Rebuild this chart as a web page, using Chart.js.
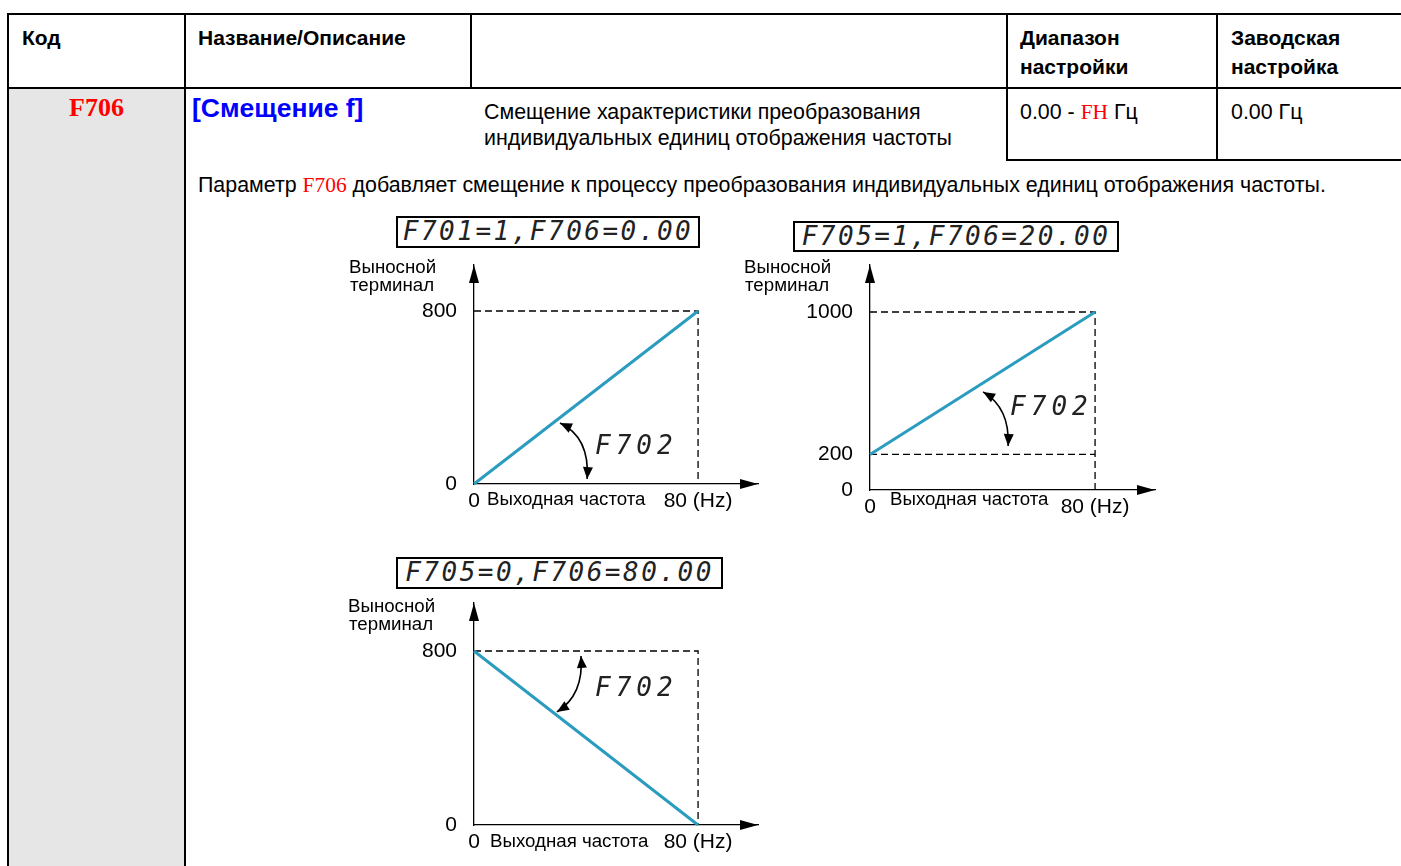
<!DOCTYPE html>
<html>
<head>
<meta charset="utf-8">
<script src="https://cdn.jsdelivr.net/npm/chart.js@4"></script>
<style>
  body { margin: 0; width: 1401px; height: 866px; position: relative; overflow: hidden; background: #fff;
         font-family: 'Liberation Sans', Arial, sans-serif; color: #000; }
  .ln { position: absolute; background: #000; }
  .t { position: absolute; white-space: nowrap; line-height: 1; }
  .b { font-weight: bold; }
  .red { color: #f00; font-family: 'Liberation Serif', 'Times New Roman', serif; }
  .box { position: absolute; border: 2px solid #000; box-sizing: border-box; text-align: center;
         font: oblique 26px 'DejaVu Sans Mono', monospace; letter-spacing: 2.5px; line-height: 27px; color: #222; }
  canvas { position: absolute; }
</style>
</head>
<body>
<!-- table frame -->
<div class="ln" style="left:8px;top:88px;width:177px;height:778px;background:#e6e6e6"></div>
<div class="ln" style="left:8px;top:13px;width:1393px;height:1.5px"></div>
<div class="ln" style="left:8px;top:87px;width:1393px;height:1.5px"></div>
<div class="ln" style="left:7px;top:13px;width:1.5px;height:853px"></div>
<div class="ln" style="left:184px;top:13px;width:1.5px;height:853px"></div>
<div class="ln" style="left:470px;top:13px;width:1.5px;height:75px"></div>
<div class="ln" style="left:1006px;top:13px;width:1.5px;height:148px"></div>
<div class="ln" style="left:1216px;top:13px;width:1.5px;height:148px"></div>
<div class="ln" style="left:1006px;top:159px;width:395px;height:1.5px"></div>

<div class="t b" style="left:22px;top:27px;font-size:21px">Код</div>
<div class="t b" style="left:198px;top:27px;font-size:21px">Название/Описание</div>
<div class="t b" style="left:1020px;top:27px;font-size:21px">Диапазон</div>
<div class="t b" style="left:1020px;top:56px;font-size:21px">настройки</div>
<div class="t b" style="left:1231px;top:27px;font-size:21px">Заводская</div>
<div class="t b" style="left:1231px;top:56px;font-size:21px">настройка</div>

<div class="t b red" style="left:69px;top:95px;font-size:26px">F706</div>
<div class="t b" style="left:192px;top:95px;font-size:26.5px;color:#0000ff">[Смещение f]</div>
<div class="t" style="left:484px;top:101.5px;font-size:21.4px">Смещение характеристики преобразования</div>
<div class="t" style="left:484px;top:127.5px;font-size:21.4px">индивидуальных единиц отображения частоты</div>
<div class="t" style="left:1020px;top:101.5px;font-size:21.4px">0.00 - <span class="red">FH</span> Гц</div>
<div class="t" style="left:1231px;top:101.5px;font-size:21.4px">0.00 Гц</div>
<div class="t" style="left:198px;top:174.5px;font-size:21.4px">Параметр <span class="red">F706</span> добавляет смещение к процессу преобразования индивидуальных единиц отображения частоты.</div>

<div class="box" style="left:396px;top:216px;width:304px;height:32px">F701=1,F706=0.00</div>
<div class="box" style="left:793px;top:221px;width:326px;height:31px">F705=1,F706=20.00</div>
<div class="box" style="left:396px;top:557px;width:327px;height:32px">F705=0,F706=80.00</div>

<canvas id="chartA" width="430" height="290" style="left:340px;top:235px"></canvas>
<canvas id="chartB" width="430" height="295" style="left:735px;top:235px"></canvas>
<canvas id="chartC" width="430" height="293" style="left:340px;top:573px"></canvas>

<script>
// output frequency (Hz) at the two ends of each characteristic
const freqTicks = [0, 80];
const freqLabels = ['0', '80 (Hz)'];
// remote terminal value at 0 Hz and at 80 Hz
const termA = [0, 800];     // F701=1, F706=0.00
const termB = [200, 1000];  // F705=1, F706=20.00
const termC = [800, 0];     // F705=0, F706=80.00
// y axis tick labels
const ticksA = [0, 800];
const ticksB = [0, 200, 1000];
const ticksC = [0, 800];

const LINE = '#2b9cbf';
const FONT = "'Liberation Sans', Arial, sans-serif";

function arrowHead(ctx, tip, dir, len, half) {
  const l = Math.hypot(dir[0], dir[1]);
  const ux = dir[0] / l, uy = dir[1] / l;
  const bx = tip[0] - ux * len, by = tip[1] - uy * len;
  ctx.beginPath();
  ctx.moveTo(tip[0], tip[1]);
  ctx.lineTo(bx - uy * half, by + ux * half);
  ctx.lineTo(bx + uy * half, by - ux * half);
  ctx.closePath();
  ctx.fill();
}

const decor = {
  id: 'decor',
  afterDraw(chart, args, o) {
    const { ctx, chartArea: a, scales: { x, y } } = chart;
    const x0 = x.getPixelForValue(0), y0 = y.getPixelForValue(0);
    ctx.save();
    ctx.fillStyle = '#000';
    ctx.strokeStyle = '#000';
    // axis arrows
    arrowHead(ctx, [x0, a.top], [0, -1], 18, 5);
    arrowHead(ctx, [a.right, y0], [1, 0], 18, 5);

    // axis titles
    ctx.textBaseline = 'middle';
    ctx.textAlign = 'left';
    ctx.font = '18.7px ' + FONT;
    ctx.fillText('Выносной', x0 + o.yTitle[0], a.top + o.yTitle[1]);
    ctx.fillText('терминал', x0 + o.yTitle[0] + 1, a.top + o.yTitle[1] + 18);
    ctx.fillText('Выходная частота', x0 + o.xTitle[0], y0 + o.xTitle[1]);

    // F702 gain arrow
    const P = p => [x.getPixelForValue(p[0]), y.getPixelForValue(p[1])];
    const [A, C, B] = o.bend.map(P);
    ctx.lineWidth = 1.6;
    ctx.beginPath();
    ctx.moveTo(A[0], A[1]);
    ctx.quadraticCurveTo(C[0], C[1], B[0], B[1]);
    ctx.stroke();
    arrowHead(ctx, A, [A[0] - C[0], A[1] - C[1]], 12, 5);
    arrowHead(ctx, B, [B[0] - C[0], B[1] - C[1]], 12, 5);

    const T = P(o.label);
    ctx.font = 'oblique 26px "DejaVu Sans Mono", monospace';
    ctx.letterSpacing = '5px';
    ctx.fillStyle = '#222';
    ctx.fillText('F702', T[0], T[1]);
    ctx.restore();
  }
};

function makeChart(id, term, yTicks, xMax, yMax, box, deco) {
  const pts = freqTicks.map((f, i) => ({ x: f, y: term[i] }));
  const top = Math.max(...term);
  const guides = yTicks.filter(v => v > 0).map(v => ({
    label: 'guide',
    data: v === top
      ? [{ x: 0, y: v }, { x: freqTicks[1], y: v }, { x: freqTicks[1], y: 0 }]
      : [{ x: 0, y: v }, { x: freqTicks[1], y: v }],
    borderColor: '#000',
    borderWidth: 1.3,
    borderDash: [7, 4],
    pointRadius: 0,
    clip: false,
    order: 2
  }));

  return new Chart(document.getElementById(id), {
    type: 'line',
    data: {
      datasets: [{
        label: 'characteristic',
        data: pts,
        borderColor: LINE,
        borderWidth: 3,
        pointRadius: 0,
        clip: false,
        order: 1
      }, ...guides]
    },
    plugins: [decor],
    options: {
      responsive: false,
      animation: false,
      events: [],
      layout: { padding: { top: 30, right: box.right, left: 0, bottom: 0 } },
      plugins: { legend: { display: false }, tooltip: { enabled: false }, decor: deco },
      scales: {
        x: {
          type: 'linear', min: 0, max: xMax,
          grid: { display: false, drawTicks: false },
          border: { display: true, color: '#000', width: 1.3 },
          afterBuildTicks: s => { s.ticks = freqTicks.map(v => ({ value: v })); },
          afterFit: s => { s.height = box.xh; },
          ticks: {
            padding: 5, color: '#000', maxRotation: 0, autoSkip: false,
            font: { family: FONT, size: 21 },
            callback: (v, i) => freqLabels[i]
          }
        },
        y: {
          type: 'linear', min: 0, max: yMax,
          grid: { display: false, drawTicks: false },
          border: { display: true, color: '#000', width: 1.3 },
          afterBuildTicks: s => { s.ticks = yTicks.map(v => ({ value: v })); },
          afterFit: s => { s.width = box.yw; },
          ticks: {
            padding: 17, color: '#000', autoSkip: false,
            font: { family: FONT, size: 21 },
            callback: v => String(v)
          }
        }
      }
    }
  });
}

makeChart('chartA', termA, ticksA, 101.4, 1012.7, { right: 12, xh: 41, yw: 134 }, {
  yTitle: [-125, 3], xTitle: [13, 16],
  bend: [[30.7, 282], [41.4, 217], [40.4, 23]], label: [43.2, 171]
});
makeChart('chartB', termB, ticksB, 101.3, 1264, { right: 10, xh: 40, yw: 135 }, {
  yTitle: [-126, 3], xTitle: [20, 10],
  bend: [[40.2, 551], [49.8, 461], [49.1, 247]], label: [49.8, 461]
});
makeChart('chartC', termC, ticksC, 101.4, 1020.7, { right: 12, xh: 41, yw: 134 }, {
  yTitle: [-126, 4], xTitle: [16, 17],
  bend: [[38.2, 777], [39.3, 598], [29.6, 520]], label: [43.2, 625]
});
</script>
</body>
</html>
